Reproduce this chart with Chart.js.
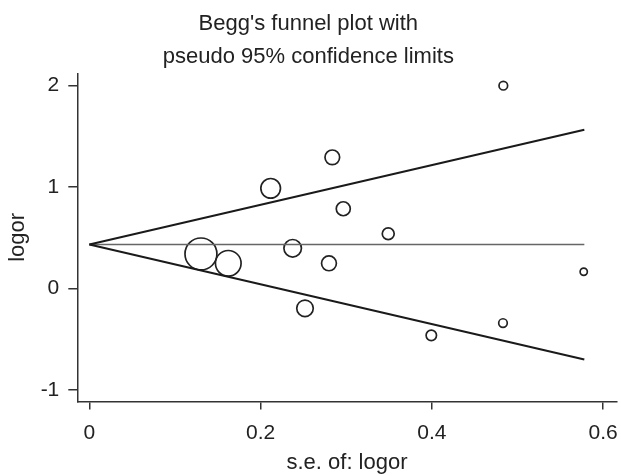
<!DOCTYPE html>
<html>
<head>
<meta charset="utf-8">
<script src="https://cdn.jsdelivr.net/npm/chart.js@4/dist/chart.umd.min.js"></script>
<style>
  html, body { margin: 0; padding: 0; background: #fff; overflow: hidden; }
  canvas { display: block; }
</style>
</head>
<body>
<canvas id="funnel" width="621" height="476"></canvas>
<script>
// studies: standard error and log odds ratio
var se    = [0.1303, 0.1622, 0.2117, 0.2374, 0.2518, 0.2798, 0.2837, 0.2965, 0.349, 0.3993, 0.4834, 0.483, 0.5773];
var logor = [0.340, 0.248, 0.986, 0.396, -0.195, 0.248, 1.291, 0.785, 0.539, -0.461, 1.996, -0.340, 0.165];

// pooled estimate and pseudo 95% limits
var pooled = 0.434;
var seMax = 0.578;
var upperLimit = [pooled, 1.562];
var lowerLimit = [pooled, -0.698];

var xTicks = [0, 0.2, 0.4, 0.6];
var yTicks = [-1, 0, 1, 2];

var points = se.map((s, i) => ({x: s, y: logor[i]}));

var font = "'Liberation Sans', Arial, sans-serif";
var ink = '#222';

var ctx = document.getElementById('funnel').getContext('2d');

var chart = new Chart(ctx, {
    type: 'scatter',
    data: {
        datasets: [
            {
                label: 'upper',
                data: [{x: 0, y: upperLimit[0]}, {x: seMax, y: upperLimit[1]}],
                showLine: true,
                borderColor: '#1a1a1a',
                borderWidth: 2,
                pointRadius: 0
            },
            {
                label: 'lower',
                data: [{x: 0, y: lowerLimit[0]}, {x: seMax, y: lowerLimit[1]}],
                showLine: true,
                borderColor: '#1a1a1a',
                borderWidth: 2,
                pointRadius: 0
            },
            {
                label: 'pooled',
                data: [{x: 0, y: pooled}, {x: seMax, y: pooled}],
                showLine: true,
                borderColor: '#666',
                borderWidth: 1.5,
                pointRadius: 0
            },
            {
                label: 'studies',
                data: points,
                // marker size follows the study weight (1/se)
                pointRadius: (c) => c.raw ? 2.08 / c.raw.x : 3,
                pointBackgroundColor: 'rgba(0,0,0,0)',
                pointBorderColor: ink,
                pointBorderWidth: 1.7,
                pointHoverRadius: (c) => c.raw ? 2.08 / c.raw.x : 3
            }
        ]
    },
    options: {
        responsive: false,
        animation: false,
        devicePixelRatio: 1,
        layout: { autoPadding: false, padding: { left: 0, right: 4.3, top: 0, bottom: 0 } },
        plugins: {
            legend: { display: false },
            tooltip: { enabled: false },
            title: {
                display: true,
                text: ["Begg's funnel plot with", "pseudo 95% confidence limits"],
                color: ink,
                font: { family: font, size: 22, weight: 'normal', lineHeight: 1.473 },
                padding: { top: 8, bottom: 0.5 }
            }
        },
        scales: {
            x: {
                type: 'linear',
                min: -0.0141,
                max: 0.6158,
                afterBuildTicks: (scale) => { scale.ticks = xTicks.map(v => ({value: v})); },
                afterFit: (scale) => { scale.height = 74.5; scale.paddingLeft = 0; scale.paddingRight = 0; },
                grid: { display: true, drawOnChartArea: false, drawTicks: true, tickLength: 8, color: '#333', lineWidth: 1.5 },
                border: { display: true, color: '#333', width: 1.5 },
                ticks: { color: ink, font: { family: font, size: 21 }, padding: 11, maxRotation: 0 },
                title: { display: true, text: 's.e. of: logor', color: ink, font: { family: font, size: 22 }, padding: { top: 0, bottom: 0 } }
            },
            y: {
                type: 'linear',
                min: -1.112,
                max: 2.118,
                afterBuildTicks: (scale) => { scale.ticks = yTicks.map(v => ({value: v})); },
                afterFit: (scale) => { scale.width = 77.3; scale.paddingTop = 0; scale.paddingBottom = 0; },
                grid: { display: true, drawOnChartArea: false, drawTicks: true, tickLength: 9, color: '#333', lineWidth: 1.5 },
                border: { display: true, color: '#333', width: 1.5 },
                ticks: { color: ink, font: { family: font, size: 21 }, padding: 9 },
                title: { display: true, text: 'logor', color: ink, font: { family: font, size: 22 }, padding: { top: 5, bottom: 0 } }
            }
        }
    }
});
</script>
</body>
</html>
